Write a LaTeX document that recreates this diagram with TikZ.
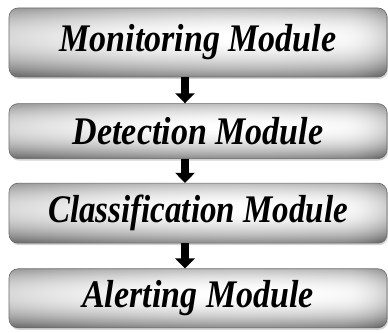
\documentclass[tikz,border=0pt]{standalone}
\usepackage{fontspec}
\setmainfont{Liberation Serif}
\usepackage{tikz}
\usetikzlibrary{positioning,shadows,arrows.meta}
\definecolor{moduleedge}{RGB}{105,105,105}
% grey bevel: light band a little above the middle, darker towards the ends
% (the node covers the inner 25bp..75bp of the shading, so rescale first)
\pgfdeclarefunctionalshading{moduleshade}{\pgfpoint{0bp}{0bp}}{\pgfpoint{100bp}{100bp}}{}{
  exch 25 sub 2 mul exch 25 sub 2 mul
  58 sub dup 0 lt { 58 div dup mul 0.46 mul } { 42 div dup mul 0.26 mul } ifelse
  exch dup 62 sub 62 div dup mul 0.15 mul exch
  88 sub dup 0 gt { 12 div dup mul 0.14 mul } { pop 0 } ifelse
  add add 1 exch sub dup dup
}
\tikzset{
  module/.style={draw=moduleedge,line width=0.6pt,rounded corners=9pt,
    shading=moduleshade,minimum width=378pt,inner sep=0pt,
    drop shadow={shadow xshift=1pt,shadow yshift=-2pt,opacity=0.35},
    font=\fontsize{34}{40}\selectfont\bfseries\itshape},
  flow/.style={line width=8pt,-{Triangle[width=19pt,length=10pt]}}
}
\begin{document}
\begin{tikzpicture}
\useasboundingbox (0,0) rectangle (388pt,332pt);
\node [module,minimum height=69pt] (mon) at (198pt,289.5pt) {\scalebox{1}[1.15]{Monitoring Module}};
\node [module,minimum height=55pt,below=26pt of mon] (det) {\scalebox{1}[1.15]{Detection Module}};
\node [module,minimum height=60pt,below=24pt of det] (cls) {\scalebox{0.97}[1.15]{Classification Module}};
\node [module,minimum height=59pt,below=25pt of cls] (alr) {\scalebox{1}[1.15]{Alerting Module}};
% arrows sit a little left of the box centres
\draw [flow] ([xshift=-13pt]mon.south) -- ([xshift=-13pt]det.north);
\draw [flow] ([xshift=-13pt]det.south) -- ([xshift=-13pt]cls.north);
\draw [flow] ([xshift=-13pt]cls.south) -- ([xshift=-13pt]alr.north);
\end{tikzpicture}
\end{document}
